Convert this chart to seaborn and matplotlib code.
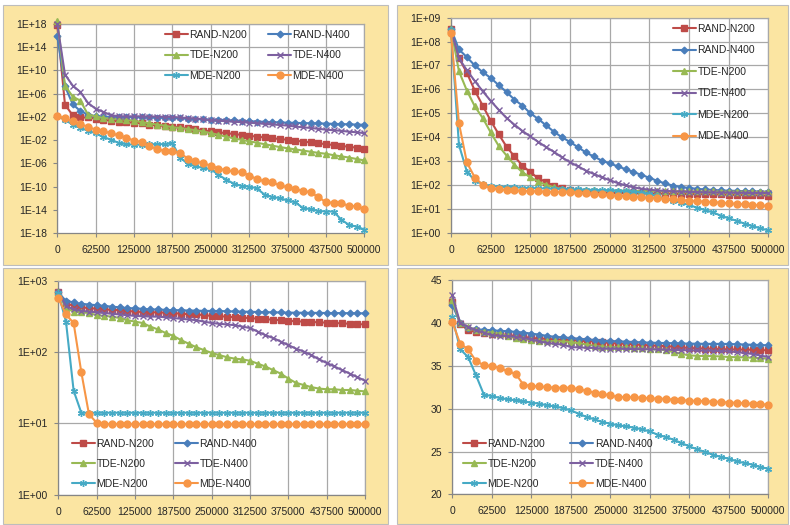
import numpy as np
import matplotlib
matplotlib.use("Agg")
import matplotlib.pyplot as plt
from matplotlib.patches import Rectangle
from matplotlib.ticker import NullLocator
import seaborn as sns

sns.set_style("white")
plt.rcParams["font.family"] = ["Liberation Sans", "DejaVu Sans"]

W, H = 790, 525

# ---------------- data ----------------
evals = list(range(0, 500001, 12500))
series_names = ["RAND-N200", "RAND-N400", "TDE-N200", "TDE-N400", "MDE-N200", "MDE-N400"]

x_ticks = [0, 62500, 125000, 187500, 250000, 312500, 375000, 437500, 500000]
x_tick_labels = ["0", "62500", "125000", "187500", "250000", "312500", "375000", "437500", "500000"]

# top-left panel, log10 of the plotted value
tl_rand_n200 = [17.8, 4.1, 2.3, 1.9, 1.9, 1.7, 1.5, 1.35, 1.2, 1.1, 1.0, 0.9, 0.66, 0.55, 0.45, 0.3, 0.2, 0.05, -0.1, -0.35,
                -0.5, -0.65, -0.8, -0.95, -1.1, -1.25, -1.4, -1.55, -1.7, -1.8, -1.95, -2.1, -2.25, -2.4, -2.55, -2.7,
                -2.85, -3.0, -3.15, -3.3, -3.5]
tl_rand_n400 = [15.9, 7.3, 4.2, 3.0, 2.4, 2.1, 2.05, 2.0, 2.0, 1.95, 1.95, 1.9, 1.9, 1.85, 1.85, 1.8, 1.75, 1.7, 1.65, 1.6,
                1.55, 1.5, 1.45, 1.4, 1.3, 1.25, 1.2, 1.15, 1.1, 1.05, 1.0, 0.97, 0.93, 0.9, 0.88, 0.85, 0.8, 0.76, 0.72,
                0.68, 0.64]
tl_tde_n200 = [18.6, 7.4, 5.5, 4.8, 2.4, 2.1, 1.8, 1.7, 1.6, 1.5, 1.35, 1.1, 0.9, 0.66, 0.5, 0.2, 0.1, -0.1, -0.3, -0.5,
               -0.8, -1.1, -1.4, -1.7, -1.95, -2.2, -2.45, -2.7, -2.95, -3.2, -3.4, -3.6, -3.8, -4.0, -4.2, -4.35, -4.6,
               -4.8, -5.0, -5.25, -5.5]
tl_tde_n400 = [18.0, 9.3, 7.4, 6.3, 4.4, 3.4, 2.85, 2.3, 2.1, 2.1, 2.1, 2.1, 2.05, 2.05, 2.0, 2.0, 1.9, 1.8, 1.7, 1.6,
               1.4, 1.35, 1.25, 1.15, 1.1, 1.0, 0.9, 0.8, 0.7, 0.6, 0.5, 0.35, 0.2, 0.1, -0.05, -0.2, -0.3, -0.4, -0.55,
               -0.65, -0.8]
tl_mde_n200 = [2.1, 1.5, 0.66, 0.1, -0.37, -0.83, -1.5, -1.9, -2.5, -2.7, -2.8, -2.8, -2.7, -2.7, -2.7, -2.55, -5.0, -6.1,
               -6.5, -6.8, -7.0, -8.0, -8.8, -9.5, -9.9, -10.0, -10.3, -11.4, -11.8, -12.0, -12.4, -12.7, -13.7, -13.9,
               -14.2, -14.3, -14.3, -15.7, -16.6, -16.9, -17.4]
tl_mde_n400 = [2.1, 1.8, 1.24, 0.78, 0.26, -0.2, -0.5, -0.8, -1.2, -1.6, -2.1, -2.3, -3.1, -3.5, -3.9, -3.9, -4.2, -5.2,
               -5.65, -6.0, -6.4, -6.9, -7.2, -7.4, -7.5, -8.1, -8.7, -9.1, -9.3, -9.8, -10.1, -10.5, -10.7, -11.0,
               -11.8, -12.7, -12.8, -12.9, -13.3, -13.4, -13.9]

# top-right panel, log10
tr_rand_n200 = [8.51, 7.32, 6.69, 5.95, 5.32, 4.69, 4.13, 3.6, 3.19, 2.81, 2.53, 2.28, 2.11, 1.97, 1.86, 1.79, 1.75,
                1.72, 1.70, 1.68, 1.67, 1.66, 1.66, 1.65, 1.65, 1.64, 1.64, 1.63, 1.63, 1.62, 1.62, 1.61, 1.61, 1.6, 1.6,
                1.59, 1.58, 1.58, 1.57, 1.56, 1.55]
tr_rand_n400 = [8.54, 7.67, 7.35, 7.0, 6.72, 6.48, 6.18, 5.89, 5.57, 5.32, 5.0, 4.76, 4.49, 4.22, 3.99, 3.8, 3.58, 3.36,
                3.19, 3.02, 2.9, 2.78, 2.66, 2.54, 2.42, 2.3, 2.17, 2.06, 1.97, 1.92, 1.87, 1.84, 1.81, 1.79, 1.77, 1.76,
                1.75, 1.74, 1.73, 1.72, 1.71]
tr_tde_n200 = [8.54, 6.76, 5.95, 5.29, 4.8, 4.2, 3.64, 3.23, 2.84, 2.53, 2.32, 2.14, 2.0, 1.9, 1.83, 1.79, 1.78, 1.77,
               1.77, 1.76, 1.76, 1.76, 1.76, 1.75, 1.75, 1.75, 1.75, 1.74, 1.74, 1.74, 1.74, 1.73, 1.73, 1.73, 1.72,
               1.72, 1.72, 1.72, 1.71, 1.71, 1.71]
tr_tde_n400 = [8.48, 7.3, 6.8, 6.35, 5.92, 5.52, 5.15, 4.8, 4.52, 4.26, 4.03, 3.8, 3.58, 3.38, 3.15, 2.95, 2.78, 2.6,
               2.46, 2.32, 2.2, 2.08, 1.98, 1.9, 1.84, 1.8, 1.77, 1.75, 1.73, 1.72, 1.71, 1.70, 1.69, 1.69, 1.68, 1.68,
               1.67, 1.67, 1.66, 1.66, 1.66]
tr_mde_n200 = [8.48, 3.68, 2.56, 2.18, 2.04, 1.95, 1.93, 1.91, 1.9, 1.88, 1.87, 1.86, 1.85, 1.84, 1.83, 1.82, 1.81, 1.8,
               1.79, 1.78, 1.78, 1.76, 1.74, 1.72, 1.68, 1.62, 1.52, 1.42, 1.33, 1.25, 1.16, 1.05, 0.95, 0.85, 0.72,
               0.6, 0.5, 0.38, 0.28, 0.18, 0.1]
tr_mde_n400 = [8.34, 4.59, 2.94, 2.31, 2.0, 1.86, 1.82, 1.79, 1.77, 1.76, 1.74, 1.73, 1.72, 1.71, 1.7, 1.69, 1.68, 1.66,
               1.63, 1.6, 1.57, 1.55, 1.53, 1.51, 1.48, 1.46, 1.44, 1.42, 1.4, 1.37, 1.34, 1.32, 1.3, 1.28, 1.26, 1.23,
               1.21, 1.19, 1.16, 1.14, 1.12]

# bottom-left panel, log10
bl_rand_n200 = [2.84, 2.69, 2.65, 2.63, 2.62, 2.61, 2.6, 2.595, 2.59, 2.58, 2.57, 2.565, 2.56, 2.56, 2.555, 2.55, 2.54,
                2.535, 2.53, 2.52, 2.51, 2.505, 2.5, 2.49, 2.485, 2.48, 2.47, 2.465, 2.455, 2.45, 2.44, 2.435, 2.43,
                2.425, 2.42, 2.415, 2.41, 2.405, 2.4, 2.395, 2.39]
bl_rand_n400 = [2.84, 2.72, 2.70, 2.68, 2.67, 2.66, 2.65, 2.64, 2.63, 2.62, 2.615, 2.61, 2.60, 2.6, 2.595, 2.59, 2.59,
                2.585, 2.585, 2.58, 2.58, 2.578, 2.575, 2.572, 2.57, 2.568, 2.565, 2.562, 2.56, 2.558, 2.556, 2.555,
                2.554, 2.553, 2.552, 2.551, 2.55, 2.549, 2.548, 2.547, 2.546]
bl_tde_n200 = [2.84, 2.62, 2.57, 2.56, 2.55, 2.52, 2.51, 2.5, 2.48, 2.45, 2.43, 2.41, 2.36, 2.32, 2.27, 2.23, 2.17, 2.12,
               2.07, 2.03, 1.99, 1.96, 1.93, 1.91, 1.90, 1.88, 1.84, 1.80, 1.75, 1.70, 1.63, 1.57, 1.54, 1.51, 1.49,
               1.48, 1.48, 1.47, 1.47, 1.46, 1.45]
bl_tde_n400 = [2.84, 2.65, 2.60, 2.58, 2.57, 2.56, 2.55, 2.54, 2.53, 2.52, 2.51, 2.505, 2.5, 2.5, 2.49, 2.48, 2.47, 2.46,
               2.45, 2.43, 2.41, 2.4, 2.39, 2.38, 2.36, 2.34, 2.29, 2.24, 2.20, 2.15, 2.10, 2.05, 2.01, 1.96, 1.90,
               1.85, 1.80, 1.75, 1.70, 1.65, 1.60]
bl_mde_n200 = [2.83, 2.43, 1.46, 1.15, 1.15, 1.15, 1.15, 1.15, 1.15, 1.15, 1.15, 1.15, 1.15, 1.15, 1.15, 1.15, 1.15,
               1.15, 1.15, 1.15, 1.15, 1.15, 1.15, 1.15, 1.15, 1.15, 1.15, 1.15, 1.15, 1.15, 1.15, 1.15, 1.15, 1.15,
               1.15, 1.15, 1.15, 1.15, 1.15, 1.15, 1.15]
bl_mde_n400 = [2.76, 2.53, 2.41, 1.72, 1.13, 1.01, 0.99, 0.99, 0.99, 0.99, 0.99, 0.99, 0.99, 0.99, 0.99, 0.99, 0.99,
               0.99, 0.99, 0.99, 0.99, 0.99, 0.99, 0.99, 0.99, 0.99, 0.99, 0.99, 0.99, 0.99, 0.99, 0.99, 0.99, 0.99,
               0.99, 0.99, 0.99, 0.99, 0.99, 0.99, 0.99]

# bottom-right panel, linear values
br_rand_n200 = [42.47, 39.94, 39.16, 38.96, 38.9, 38.77, 38.7, 38.6, 38.5, 38.4, 38.26, 38.2, 38.15, 38.1, 38.05, 38.05,
                37.95, 37.9, 37.85, 37.75, 37.68, 37.62, 37.58, 37.52, 37.46, 37.4, 37.35, 37.3, 37.25, 37.15, 37.09,
                37.06, 37.03, 37.0, 36.97, 36.94, 36.92, 36.9, 36.88, 36.85, 36.82]
br_rand_n400 = [42.16, 40.0, 39.43, 39.27, 39.23, 39.16, 39.1, 39.05, 38.98, 38.9, 38.77, 38.66, 38.5, 38.4, 38.32,
                38.26, 38.18, 38.1, 38.03, 37.95, 37.91, 37.87, 37.83, 37.79, 37.75, 37.71, 37.69, 37.67, 37.65, 37.62,
                37.6, 37.59, 37.58, 37.57, 37.57, 37.56, 37.53, 37.5, 37.47, 37.44, 37.4]
br_tde_n200 = [42.66, 40.0, 39.55, 39.16, 38.96, 38.9, 38.77, 38.5, 38.26, 38.18, 37.99, 37.95, 37.92, 37.88, 37.85,
               37.8, 37.65, 37.5, 37.35, 37.25, 37.2, 37.2, 37.18, 37.12, 37.05, 36.94, 36.94, 36.85, 36.6, 36.4, 36.23,
               36.18, 36.15, 36.15, 36.1, 36.04, 36.02, 36.0, 35.95, 35.9, 35.85]
br_tde_n400 = [43.25, 40.0, 39.55, 39.16, 38.9, 38.57, 38.5, 38.5, 38.38, 38.26, 38.1, 37.88, 37.68, 37.57, 37.49, 37.2,
               37.16, 37.12, 37.09, 37.01, 37.0, 37.0, 36.98, 36.97, 36.95, 36.94, 36.92, 36.9, 36.88, 36.85, 36.82,
               36.8, 36.78, 36.76, 36.73, 36.7, 36.62, 36.5, 36.4, 36.2, 36.04]
br_mde_n200 = [40.71, 36.94, 36.04, 33.9, 31.64, 31.48, 31.25, 31.1, 30.98, 30.86, 30.7, 30.59, 30.39, 30.27, 30.08,
               29.8, 29.42, 29.03, 28.76, 28.44, 28.25, 28.05, 27.94, 27.78, 27.59, 27.35, 26.96, 26.69, 26.38, 25.99,
               25.6, 25.25, 24.94, 24.63, 24.35, 24.16, 23.85, 23.65, 23.46, 23.18, 22.99]
br_mde_n400 = [40.13, 37.6, 36.94, 35.57, 35.07, 35.0, 34.75, 34.36, 34.09, 32.81, 32.65, 32.6, 32.52, 32.45, 32.45,
               32.45, 32.26, 32.1, 31.87, 31.72, 31.56, 31.37, 31.35, 31.32, 31.29, 31.2, 31.17, 31.15, 31.05, 30.98,
               30.95, 30.9, 30.88, 30.82, 30.8, 30.7, 30.7, 30.62, 30.58, 30.52, 30.47]

tl_tick_exp = [18, 14, 10, 6, 2, -2, -6, -10, -14, -18]
tl_tick_labels = ["1E+18", "1E+14", "1E+10", "1E+06", "1E+02", "1E-02", "1E-06", "1E-10", "1E-14", "1E-18"]
tl_grid_exp = [18, 14, 10, 6]
tr_tick_exp = [9, 8, 7, 6, 5, 4, 3, 2, 1, 0]
tr_tick_labels = ["1E+09", "1E+08", "1E+07", "1E+06", "1E+05", "1E+04", "1E+03", "1E+02", "1E+01", "1E+00"]
bl_tick_exp = [3, 2, 1, 0]
bl_tick_labels = ["1E+03", "1E+02", "1E+01", "1E+00"]
br_ticks = [45, 40, 35, 30, 25, 20]
br_tick_labels = ["45", "40", "35", "30", "25", "20"]

# ---------------- style ----------------
colors = {"RAND-N200": "#BE4B48", "RAND-N400": "#4A7EBB", "TDE-N200": "#98B954",
          "TDE-N400": "#7D60A0", "MDE-N200": "#46AAC5", "MDE-N400": "#F79646"}
markers = {"RAND-N200": "s", "RAND-N400": "D", "TDE-N200": "^",
           "TDE-N400": "x", "MDE-N200": (6, 2, 0), "MDE-N400": "o"}
msizes = {"RAND-N200": 4.4, "RAND-N400": 3.4, "TDE-N200": 4.8,
          "TDE-N400": 4.2, "MDE-N200": 5.0, "MDE-N400": 5.0}
YELLOW = "#FBE5A2"
GRID = "#A8A8A8"
AXIS = "#868686"
FS = 7.5


def frac_rect(x0, y0, x1, y1):
    return [x0 / W, 1 - y1 / H, (x1 - x0) / W, (y1 - y0) / H]


fig = plt.figure(figsize=(W / 100, H / 100), dpi=100)

for (x0, y0, x1, y1) in [(3, 5, 388, 265), (397, 5, 788, 265), (3, 268, 388, 524), (397, 268, 788, 524)]:
    fig.patches.append(Rectangle((x0 / W, 1 - y1 / H), (x1 - x0) / W, (y1 - y0) / H,
                                 transform=fig.transFigure, facecolor=YELLOW,
                                 edgecolor="#BDBDBD", lw=0.8, zorder=-1))


def draw_panel(rect, data, log, ticks, tick_labels, grid_vals, ylim):
    ax = fig.add_axes(frac_rect(*rect))
    ax.set_facecolor("white")
    handles = {}
    for name, vals in zip(series_names, data):
        y = np.power(10.0, vals) if log else np.array(vals)
        sns.lineplot(x=evals, y=y, ax=ax, color=colors[name], marker=markers[name],
                     markersize=msizes[name], markeredgecolor=colors[name], markeredgewidth=1.0,
                     linewidth=1.5, errorbar=None, legend=False, clip_on=False, zorder=3)
        handles[name] = ax.get_lines()[-1]
    if log:
        ax.set_yscale("log")
    ax.set_xlim(0, 500000)
    ax.set_ylim(*ylim)
    ax.set_xticks(x_ticks)
    ax.set_xticklabels(x_tick_labels)
    ax.set_yticks(ticks)
    ax.set_yticklabels(tick_labels)
    ax.yaxis.set_minor_locator(NullLocator())
    ax.set_xlabel("")
    ax.set_ylabel("")
    for xv in x_ticks:
        ax.axvline(xv, color=GRID, lw=0.9, zorder=0.5)
    for yv in grid_vals:
        ax.axhline(yv, color=GRID, lw=0.9, zorder=0.5)
    for side in ["top", "right"]:
        ax.spines[side].set_color(GRID)
        ax.spines[side].set_linewidth(0.9)
    for side in ["left", "bottom"]:
        ax.spines[side].set_color(AXIS)
        ax.spines[side].set_linewidth(0.9)
    ax.tick_params(axis="y", direction="out", length=3, width=0.8, color=AXIS,
                   labelsize=FS, pad=4.5, left=True)
    ax.tick_params(axis="x", direction="out", length=3, width=0.8, color=AXIS,
                   labelsize=FS, pad=5.5, bottom=True)
    return ax, handles


tl_ticks = np.power(10.0, tl_tick_exp)
ax_tl, h_tl = draw_panel((57.3, 24, 364.3, 233),
                         [tl_rand_n200, tl_rand_n400, tl_tde_n200, tl_tde_n400, tl_mde_n200, tl_mde_n400],
                         True, tl_ticks, tl_tick_labels, np.power(10.0, tl_grid_exp), (1e-18, 1e18))
tr_ticks = np.power(10.0, tr_tick_exp)
ax_tr, h_tr = draw_panel((451, 17.7, 768.3, 232.7),
                         [tr_rand_n200, tr_rand_n400, tr_tde_n200, tr_tde_n400, tr_mde_n200, tr_mde_n400],
                         True, tr_ticks, tr_tick_labels, tr_ticks, (1, 1e9))
bl_ticks = np.power(10.0, bl_tick_exp)
ax_bl, h_bl = draw_panel((58.3, 281, 365, 494.7),
                         [bl_rand_n200, bl_rand_n400, bl_tde_n200, bl_tde_n400, bl_mde_n200, bl_mde_n400],
                         True, bl_ticks, bl_tick_labels, bl_ticks, (1, 1e3))
ax_br, h_br = draw_panel((452.3, 280.3, 768.3, 494.3),
                         [br_rand_n200, br_rand_n400, br_tde_n200, br_tde_n400, br_mde_n200, br_mde_n400],
                         False, br_ticks, br_tick_labels, br_ticks, (20, 45))

two_col_order = ["RAND-N200", "TDE-N200", "MDE-N200", "RAND-N400", "TDE-N400", "MDE-N400"]


def add_legend(handles, order, x_px, y_px, ncol, colsp, labsp):
    fig.legend([handles[n] for n in order], order, loc="upper left",
               bbox_to_anchor=(x_px / W, 1 - y_px / H), bbox_transform=fig.transFigure,
               ncol=ncol, frameon=False, fontsize=FS, handlelength=2.2, handletextpad=0.15,
               columnspacing=colsp, labelspacing=labsp, borderpad=0, borderaxespad=0,
               numpoints=1)


add_legend(h_tl, two_col_order, 165, 30, 2, 2.0, 1.0)
add_legend(h_tr, series_names, 673, 24, 1, 2.0, 1.1)
add_legend(h_bl, two_col_order, 72, 439, 2, 2.0, 0.95)
add_legend(h_br, two_col_order, 463, 439, 2, 2.4, 0.95)

fig.savefig("out.png", dpi=100, facecolor="white")
